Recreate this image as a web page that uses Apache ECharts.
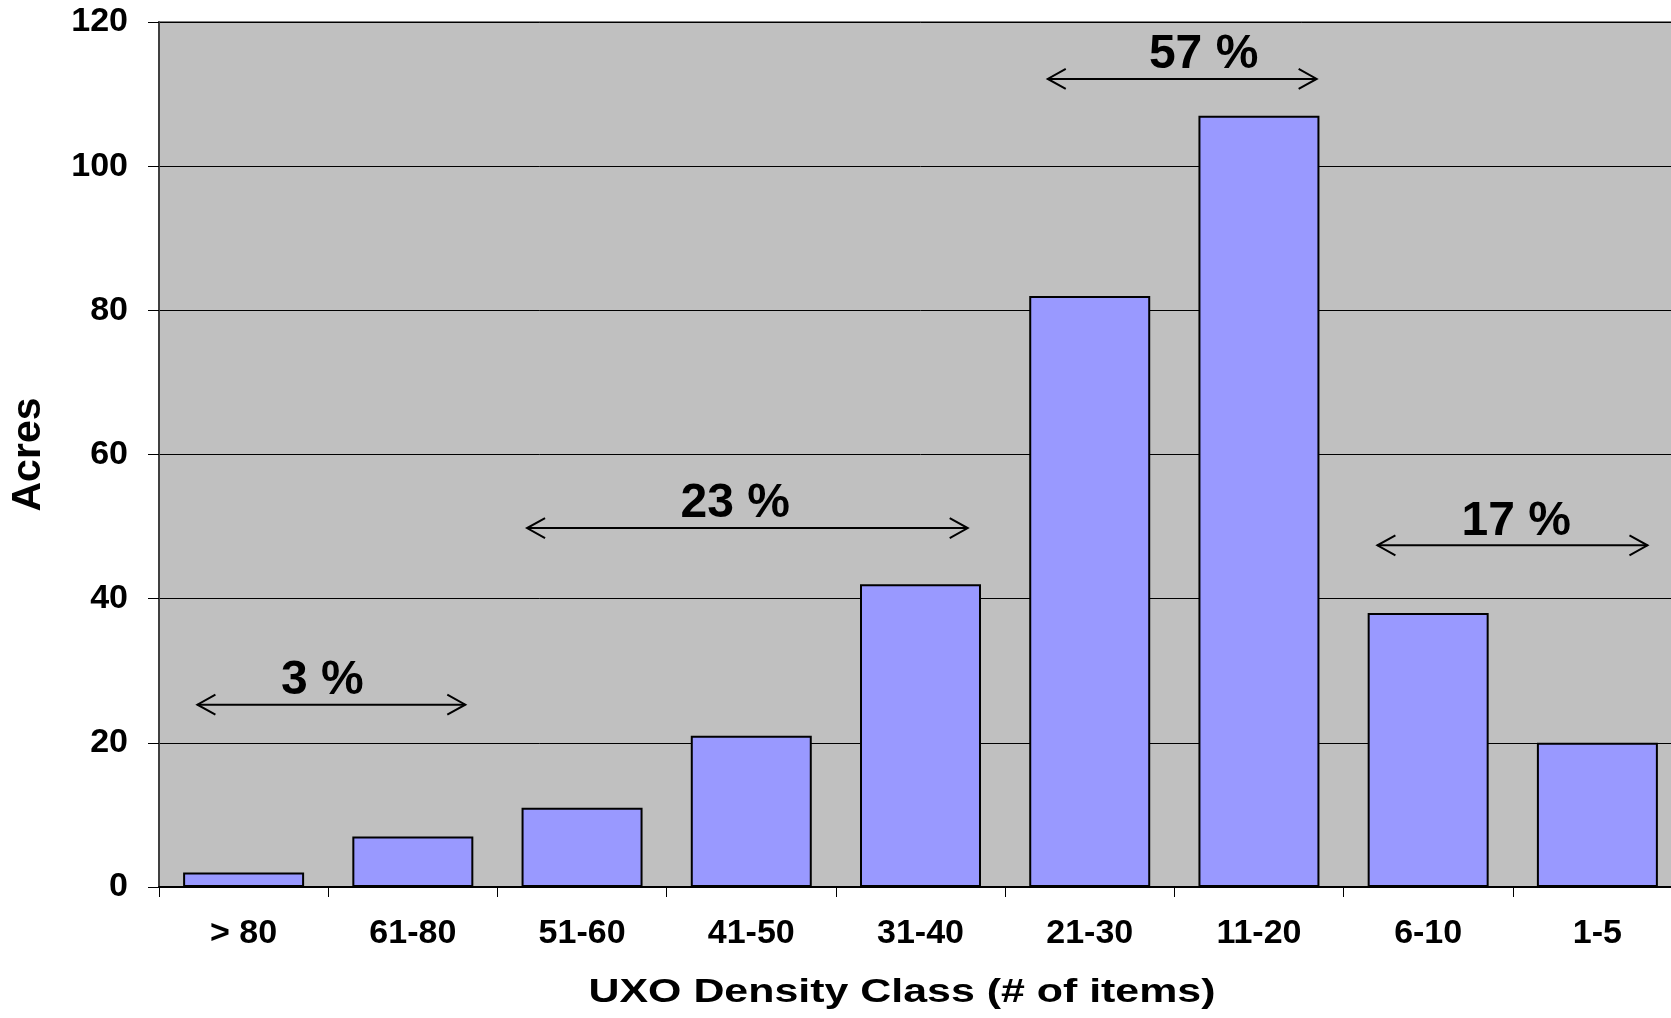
<!DOCTYPE html>
<html>
<head>
<meta charset="utf-8">
<title>UXO Density Class</title>
<script src="https://cdn.jsdelivr.net/npm/echarts@6/dist/echarts.min.js"></script>
<style>
  html, body { margin: 0; padding: 0; background: #ffffff; overflow: hidden; }
  /* the plot area runs a little past the right edge of the window */
  #chart { width: 1682px; height: 1018px; }
</style>
</head>
<body>
<div id="chart"></div>
<script>
// Density classes (number of items) and area in acres
const categories = ['> 80', '61-80', '51-60', '41-50', '31-40', '21-30', '11-20', '6-10', '1-5'];
const acres = [2, 7, 11, 21, 42, 82, 107, 38, 20];
const yTicks = { min: 0, max: 120, step: 20 };

// Bracketed share annotations: arrow span in category units (class i spans i..i+1),
// arrow height in acres, and the share label with its centre in category units
const shareLabels = ['3 %', '23 %', '57 %', '17 %'];
const shareFrom = [0.227, 2.175, 5.252, 7.200];
const shareTo = [1.810, 4.779, 6.841, 8.796];
const shareLevel = [25.3, 49.8, 112.1, 47.4];
const shareLabelAt = [0.965, 3.405, 6.173, 8.020];

const xTitle = 'UXO Density Class (# of items)';
const FONT = '"Liberation Sans", Arial, Helvetica, sans-serif';

const annotationData = shareLabels.map((t, i) => [shareFrom[i], shareTo[i], shareLevel[i], shareLabelAt[i]]);

function renderShare(params, api) {
  const from = api.coord([api.value(0), api.value(2)]);
  const to = api.coord([api.value(1), api.value(2)]);
  const mid = api.coord([api.value(3), api.value(2)]);
  const text = shareLabels[params.dataIndex];
  const headL = 18, headH = 10;
  const stroke = { stroke: '#000', lineWidth: 2, fill: null };
  return {
    type: 'group',
    children: [
      { type: 'line', shape: { x1: from[0], y1: from[1], x2: to[0], y2: to[1] }, style: stroke },
      { type: 'polyline', shape: { points: [[from[0] + headL, from[1] - headH], [from[0], from[1]], [from[0] + headL, from[1] + headH]] }, style: stroke },
      { type: 'polyline', shape: { points: [[to[0] - headL, to[1] - headH], [to[0], to[1]], [to[0] - headL, to[1] + headH]] }, style: stroke },
      {
        type: 'text',
        x: mid[0], y: mid[1],
        style: { text: text, fill: '#000', font: 'bold 48px ' + FONT, align: 'center', verticalAlign: 'bottom' }
      }
    ]
  };
}

const chart = echarts.init(document.getElementById('chart'), null, { renderer: 'canvas' });
chart.setOption({
  animation: false,
  backgroundColor: '#ffffff',
  grid: {
    left: 159, top: 22, bottom: 131, right: 0,
    show: true, backgroundColor: '#C0C0C0', borderColor: '#808080', borderWidth: 2
  },
  // horizontal axis title, spread wide under the class labels
  graphic: [{
    type: 'text',
    x: 902, y: 993,
    scaleX: 1.3,
    originX: 0, originY: 0,
    style: { text: xTitle, fill: '#000', font: 'bold 33px ' + FONT, align: 'center', verticalAlign: 'middle' }
  }],
  xAxis: [
    {
      type: 'category',
      data: categories,
      axisLine: { lineStyle: { color: '#000', width: 2 } },
      axisTick: { show: true, length: 10, interval: 0, lineStyle: { color: '#000', width: 1 } },
      axisLabel: { fontFamily: FONT, fontWeight: 'bold', fontSize: 34, color: '#000', margin: 30, interval: 0 }
    },
    {
      type: 'value', min: 0, max: 9, show: false
    }
  ],
  yAxis: {
    type: 'value',
    min: yTicks.min, max: yTicks.max, interval: yTicks.step,
    name: 'Acres',
    nameLocation: 'middle',
    nameRotate: 90,
    nameGap: 110,
    nameTextStyle: { fontFamily: FONT, fontWeight: 'bold', fontSize: 41, color: '#000' },
    axisLine: { show: true, lineStyle: { color: '#404040', width: 2 } },
    axisTick: { show: true, length: 11, lineStyle: { color: '#000', width: 1 } },
    axisLabel: { fontFamily: FONT, fontWeight: 'bold', fontSize: 34, color: '#000', margin: 31 },
    splitLine: { show: true, lineStyle: { color: '#000', width: 1 } }
  },
  series: [
    {
      type: 'bar',
      data: acres,
      barWidth: '71.5%',
      itemStyle: { color: '#9999FF', borderColor: '#000', borderWidth: 2 }
    },
    {
      type: 'custom',
      xAxisIndex: 1,
      yAxisIndex: 0,
      data: annotationData,
      renderItem: renderShare,
      silent: true,
      z: 5
    }
  ]
});
</script>
</body>
</html>
